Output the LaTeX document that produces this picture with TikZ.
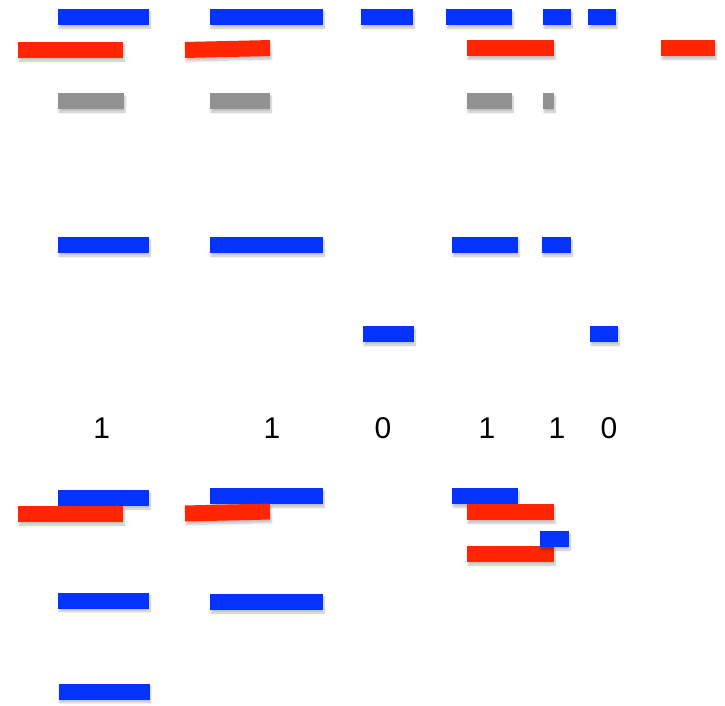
\documentclass[tikz,border=0pt]{standalone}
\usepackage{fontspec}
\setmainfont{Liberation Sans}
\usetikzlibrary{shadows.blur}
\definecolor{segblue}{HTML}{0433FF}
\definecolor{segred}{HTML}{FF2600}
\definecolor{seggray}{HTML}{929292}

\begin{document}
\begin{tikzpicture}[x=1pt,y=-1pt,
  seg/.style={inner sep=0pt,minimum height=16pt,
    blur shadow={shadow xshift=1pt,shadow yshift=-3pt,shadow opacity=25,shadow blur steps=6}},
  bseg/.style={seg,fill=segblue},
  rseg/.style={seg,fill=segred},
  gseg/.style={seg,fill=seggray},
  bit/.style={font=\fontsize{30}{36}\selectfont}]
\useasboundingbox (0,0) rectangle (725,705);

% first row
\node[bseg,minimum width=91pt]  (a1) at (103.5,17) {};
\node[bseg,minimum width=113pt] (a2) at (266.5,17) {};
\node[bseg,minimum width=52pt]  (a3) at (387,17) {};
\node[bseg,minimum width=66pt]  (a4) at (479,17) {};
\node[bseg,minimum width=28pt]  (a5) at (557,17) {};
\node[bseg,minimum width=28pt]  (a6) at (602,17) {};

\node[rseg,minimum width=105pt] (r1) at (70.5,50) {};
\node[rseg,minimum width=85pt,rotate=1.3] (r2) at (227.5,49) {};
\node[rseg,minimum width=87pt]  (r3) at (510.5,48) {};
\node[rseg,minimum width=54pt]  (r4) at (688,48) {};

\node[gseg,minimum width=66pt]  (g1) at (91,101) {};
\node[gseg,minimum width=60pt]  (g2) at (240,101) {};
\node[gseg,minimum width=45pt]  (g3) at (489.5,101) {};
\node[gseg,minimum width=11pt]  (g4) at (548.5,101) {};

% split into two rows
\node[bseg,minimum width=91pt]  (b1) at (103.5,245) {};
\node[bseg,minimum width=113pt] (b2) at (266.5,245) {};
\node[bseg,minimum width=66pt]  (b4) at (485,245) {};
\node[bseg,minimum width=29pt]  (b5) at (556.5,245) {};

\node[bseg,minimum width=51pt]  (c3) at (388.5,334) {};
\node[bseg,minimum width=28pt]  (c6) at (604,334) {};

% bits
\node[bit] (d1) at (101.7,428) {1};
\node[bit] (d2) at (272,428) {1};
\node[bit] (d3) at (383,428) {0};
\node[bit] (d4) at (487,428) {1};
\node[bit] (d5) at (557,428) {1};
\node[bit] (d6) at (609,428) {0};

% lower part
\node[bseg,minimum width=91pt]  (e1) at (103.5,498) {};
\node[rseg,minimum width=105pt] (s1) at (70.5,514) {};
\node[bseg,minimum width=113pt] (e2) at (266.5,496) {};
\node[rseg,minimum width=85pt,rotate=1.3] (s2) at (227.5,512.5) {};
\node[bseg,minimum width=66pt]  (e4) at (485,496) {};
\node[rseg,minimum width=87pt]  (s3) at (510.5,512) {};
\node[rseg,minimum width=87pt]  (s4) at (510.5,554) {};
\node[bseg,minimum width=29pt]  (e5) at (554.5,539) {};

\node[bseg,minimum width=91pt]  (f1) at (103.5,600.5) {};
\node[bseg,minimum width=113pt] (f2) at (266.5,602) {};
\node[bseg,minimum width=91pt]  (h1) at (104,691.5) {};
\end{tikzpicture}
\end{document}
